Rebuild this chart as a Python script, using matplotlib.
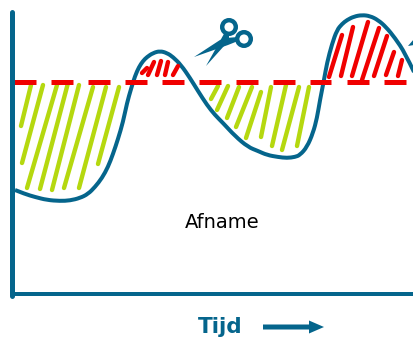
# Afname chart, drawn in pixel coordinates of the picture

import matplotlib
matplotlib.use('Agg')
import matplotlib.pyplot as plt
from matplotlib.path import Path
from matplotlib.patches import Circle, Polygon, FancyArrow, PathPatch

BLUE = '#05658c'
RED = '#f00000'
GREEN = '#b5d80f'

curve_x = [15, 25, 35, 47, 60, 70, 80, 88, 95, 102, 108, 113, 118, 123, 127, 131, 135, 139,
           143, 147, 153, 160, 167, 173, 181, 190, 198, 207, 215, 223, 235, 248, 258, 267,
           278, 287, 295, 300, 307, 313, 317, 320, 324, 327, 332, 337, 342, 347, 354, 362,
           370, 378, 386, 395, 405, 414]
curve_y = [190, 194, 197, 200, 201, 200.5, 198, 194, 187, 178, 167, 154, 139, 122, 103, 89, 76, 67,
           61, 57, 53, 51, 53, 57, 65, 78, 91, 105, 115, 123, 136, 147, 151, 155,
           157, 158, 157, 155, 147, 133, 118, 100, 80, 63, 44, 30, 24, 20, 16.5, 15,
           16, 20, 27, 38, 53, 72]

# threshold dashes (start x, end x)
level_y = 81.5
dash_x = [(14, 36), (51, 73), (88, 110), (125, 147), (162, 184), (199, 221),
          (236, 258), (273, 295), (310, 331), (347, 369), (384, 406)]

# hatch strokes (x0, y0, x1, y1)
green_lines = [(31, 85, 21, 126), (43, 85, 22, 163), (57, 85, 27, 188), (68, 83, 40, 189),
               (79, 85, 52, 190), (93, 87, 64, 188), (106, 87, 79, 188), (119, 87, 98, 164),
               (218, 86, 211, 99), (228, 86, 217, 110), (239, 87, 227, 118), (252, 87, 236, 127),
               (261, 92, 246, 138), (271, 87, 261, 137), (286, 85, 272, 146), (299, 87, 282, 150),
               (309, 87, 297, 146)]
red_lines = [(147, 68, 142, 73), (154, 62, 148, 75), (161, 61, 157, 75), (168, 62, 165, 75),
             (178, 66, 173, 75), (342, 35, 329, 77), (353, 27, 341, 76), (368, 22, 352, 76),
             (379, 28, 362, 80), (387, 36, 374, 76), (394, 52, 386, 75), (402, 60, 398, 76)]

# axis ends
axis_left = 12.5
axis_top = 12
axis_bottom = 294
axis_right = 414

fig = plt.figure(figsize=(4.14, 3.38), dpi=100)
ax = fig.add_axes([0, 0, 1, 1])
ax.set_xlim(0, 414)
ax.set_ylim(338, 0)
ax.axis('off')
px = 0.72

for x0, y0, x1, y1 in green_lines:
    ax.plot([x0, x1], [y0, y1], color=GREEN, lw=4.4 * px, solid_capstyle='round')
for x0, y0, x1, y1 in red_lines:
    ax.plot([x0, x1], [y0, y1], color=RED, lw=4.4 * px, solid_capstyle='round')
for x0, x1 in dash_x:
    ax.plot([x0, x1], [level_y, level_y], color=RED, lw=5 * px, solid_capstyle='butt')

# curve is drawn as a quadratic path so the read points do not show as corners
verts = [(curve_x[0], curve_y[0])]
codes = [Path.MOVETO]
for i in range(1, len(curve_x) - 2):
    verts.append((curve_x[i], curve_y[i]))
    verts.append(((curve_x[i] + curve_x[i + 1]) / 2, (curve_y[i] + curve_y[i + 1]) / 2))
    codes += [Path.CURVE3, Path.CURVE3]
verts.append((curve_x[-2], curve_y[-2]))
verts.append((curve_x[-1], curve_y[-1]))
codes += [Path.CURVE3, Path.CURVE3]
ax.add_patch(PathPatch(Path(verts, codes), fill=False, ec=BLUE, lw=4 * px))

ax.plot([axis_left, axis_left], [axis_top, axis_bottom + 2], color=BLUE, lw=5 * px, solid_capstyle='round')
ax.plot([axis_left, axis_right], [axis_bottom, axis_bottom], color=BLUE, lw=4 * px, solid_capstyle='butt')

# scissors
ax.add_patch(Circle((229, 27), 6.8, fill=False, ec=BLUE, lw=4.4 * px))
ax.add_patch(Circle((244, 39), 6.8, fill=False, ec=BLUE, lw=4.4 * px))
ax.add_patch(Polygon([(194, 57), (220, 40), (226, 38), (238, 37), (238, 41), (228, 45)], color=BLUE, lw=0))
ax.add_patch(Polygon([(206, 66), (220, 41), (225, 32), (229, 33), (229, 42), (224, 46)], color=BLUE, lw=0))
ax.add_patch(Polygon([(408, 46), (414, 39), (414, 45)], color=BLUE, lw=0))

ax.text(222.5, 223, 'Afname', fontsize=14, color='black', ha='center', va='center', family='DejaVu Sans')
ax.text(220, 327, 'Tijd', fontsize=15.5, color=BLUE, ha='center', va='center', weight='bold', family='DejaVu Sans')
ax.add_patch(FancyArrow(263, 327, 61, 0, width=5, head_width=13, head_length=15,
                        length_includes_head=True, color=BLUE, lw=0))

fig.savefig('out.png', dpi=100)
